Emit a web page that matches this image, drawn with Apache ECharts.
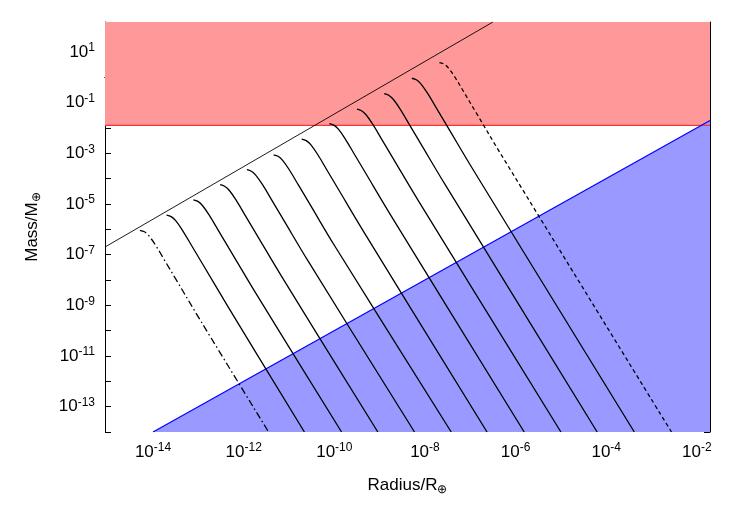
<!DOCTYPE html>
<html><head><meta charset="utf-8">
<script src="https://cdn.jsdelivr.net/npm/echarts@6/dist/echarts.min.js"></script>
<style>html,body{margin:0;background:#fff}#c{width:747px;height:523px}</style>
</head><body><div id="c"></div>
<script>
// log10 values
const xTicks = [-15,-14,-13,-12,-11,-10,-9,-8,-7,-6,-5,-4,-3,-2];
const xLabels = [-14,-12,-10,-8,-6,-4,-2];
const yTicks = [-14,-13,-12,-11,-10,-9,-8,-7,-6,-5,-4,-3,-2,-1,0,1,2];
const yLabels = [-13,-11,-9,-7,-5,-3,-1,1];
const redLimit = -1.9;
const blueLine = [[-14,-14],[-1.71,-1.71]];
const envelope = [[-15.06,-6.70],[-6.5,2.18]];
// peaks (start on envelope) and bottom crossings, dash-dot first, dashed last
const peakX = [-14.29,-13.70,-13.11,-12.52,-11.93,-11.34,-10.72,-10.11,-9.50,-8.90,-8.29,-7.68];
const peakY = [-6.04,-5.44,-4.84,-4.24,-3.65,-3.06,-2.44,-1.83,-1.26,-0.65,-0.04,0.58];
const bottomX = [-11.45,-10.66,-9.84,-9.04,-8.23,-7.42,-6.63,-5.81,-5.00,-4.20,-3.38,-2.56];
// shape of the bend below each peak, read as offsets (decades) from the peak
const bendDX = [0,0.1,0.2,0.35,0.55,0.8,1.35];
const bendDY = [0,-0.06,-0.22,-0.6,-1.2,-1.95,-3.6];
const yMin = -14, yMax = 2.18, xMin = -15.06, xMax = -1.71;

const font = 'Liberation Sans, Arial, sans-serif';
const rich = {b:{fontSize:17,fontFamily:font,color:'#000'},s:{fontSize:12,fontFamily:font,color:'#000',verticalAlign:'top',padding:[0,0,8,0]}};
const fmt = v => '{b|10}{s|' + Math.round(v) + '}';

const curves = peakX.map((px,i)=>{
  const d = bendDX.map((dx,k)=>[px+dx, peakY[i]+bendDY[k]]);
  d.push([bottomX[i], yMin]);
  let type='solid';
  if(i===0) type=[7,3,1.5,3];
  if(i===peakX.length-1) type=[4,3];
  return {type:'line',data:d,smooth:0.35,showSymbol:false,symbol:'none',z:5,
    lineStyle:{color:'#000',width:1.3,type},silent:true};
});

const chart = echarts.init(document.getElementById('c'));
chart.setOption({
  animation:false,
  grid:{left:105,right:37,top:22,bottom:91},
  xAxis:[{type:'value',min:xMin,max:xMax,position:'bottom',
    name:'Radius/R{o|⊕}',nameLocation:'middle',nameGap:42,
    nameTextStyle:{fontSize:17,fontFamily:font,color:'#000',rich:{o:{fontSize:12,fontFamily:font,verticalAlign:'bottom',padding:[10,0,0,0]}}},
    axisLine:{lineStyle:{color:'#000',width:1}},splitLine:{show:false},
    axisTick:{inside:true,length:6,customValues:xTicks,lineStyle:{color:'#000'}},
    axisLabel:{customValues:xLabels,formatter:fmt,rich,margin:10}},
   {type:'value',min:xMin,max:xMax,position:'top',
    axisLine:{lineStyle:{color:'#000'}},splitLine:{show:false},
    axisTick:{inside:true,length:6,customValues:xTicks,lineStyle:{color:'#000'}},axisLabel:{show:false}}],
  yAxis:[{type:'value',min:yMin,max:yMax,position:'left',
    name:'Mass/M{o|⊕}',nameLocation:'middle',nameGap:62,nameRotate:90,
    nameTextStyle:{fontSize:17,fontFamily:font,color:'#000',rich:{o:{fontSize:12,fontFamily:font,verticalAlign:'bottom',padding:[10,0,0,0]}}},
    axisLine:{lineStyle:{color:'#000'}},splitLine:{show:false},
    axisTick:{inside:true,length:6,customValues:yTicks,lineStyle:{color:'#000'}},
    axisLabel:{customValues:yLabels,formatter:fmt,rich,margin:10}},
   {type:'value',min:yMin,max:yMax,position:'right',
    axisLine:{lineStyle:{color:'#000'}},splitLine:{show:false},
    axisTick:{inside:true,length:6,customValues:yTicks,lineStyle:{color:'#000'}},axisLabel:{show:false}}],
  series:[
    {type:'line',data:[[xMin,redLimit],[xMax,redLimit]],symbol:'none',z:1,silent:true,
     lineStyle:{color:'#ff3333',width:1.2},areaStyle:{color:'#ff9999',opacity:1,origin:'end'}},
    {type:'line',data:blueLine,symbol:'none',z:1,silent:true,
     lineStyle:{color:'#0000ff',width:1.2},areaStyle:{color:'#9999ff',opacity:1,origin:'start'}},
    {type:'line',data:envelope,symbol:'none',z:4,silent:true,lineStyle:{color:'#000',width:0.9}},
    ...curves
  ],
  graphic:[
    {type:'text',right:420,top:45,style:{text:'m{s|χ}=250 GeV',font:'17px '+font,fill:'#000',
      rich:{s:{fontSize:12,fontFamily:font,verticalAlign:'bottom',padding:[10,0,0,0]}}}},
    {type:'text',right:420,top:70,style:{text:'512 TeV',font:'17px '+font,fill:'#000'}},
    {type:'line',shape:{x1:283,y1:62,x2:328,y2:62},style:{stroke:'#000',lineWidth:1,lineDash:[3,2]}},
    {type:'line',shape:{x1:283,y1:83,x2:328,y2:83},style:{stroke:'#000',lineWidth:1,lineDash:[6,2,1,2]}}
  ]
});
</script></body></html>
